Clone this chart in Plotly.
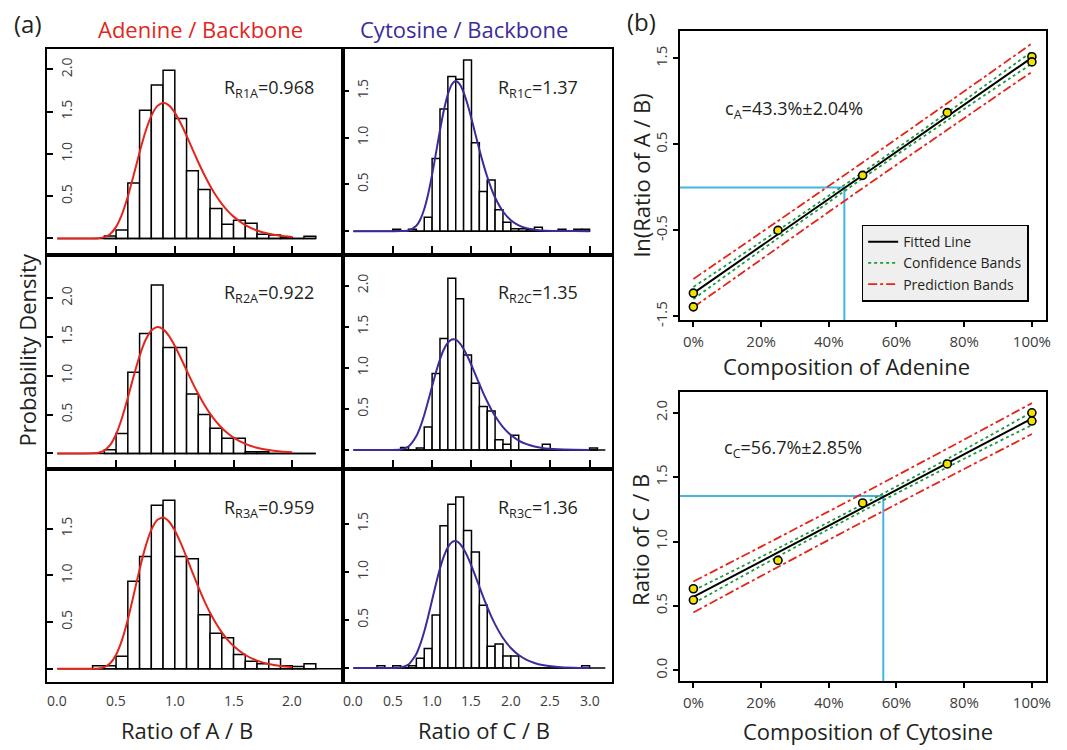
import plotly.graph_objects as go

W, H = 1067, 750
FONT = "Open Sans"
RED = "#e3261c"
PURPLE = "#3a2c9b"
GREEN = "#1f9a3a"
CYAN = "#45b5de"
YELLOW = "#f0e400"
INK = "#231f20"
TICKC = "#3c3c3c"

# ---------------- data: histograms (bin width 0.1, left edge of first bin) ----------------
BIN_W = 0.1
a1_start = 0.4
a1_heights = [0.03, 0.10, 0.656, 1.516, 1.816, 1.99, 1.418, 0.80, 0.578, 0.355,
              0.168, 0.215, 0.18, 0.05, 0.04, 0.012, 0.0, 0.027]
a2_start = 0.4
a2_heights = [0.047, 0.255, 1.046, 1.543, 2.168, 1.364, 1.364, 0.765, 0.502, 0.323,
              0.196, 0.196, 0.021, 0.021, 0.0, 0.0, 0.0, 0.0]
a3_start = 0.3
a3_heights = [0.032, 0.032, 0.134, 0.938, 1.203, 1.752, 1.805, 1.203, 1.178, 0.577,
              0.379, 0.333, 0.152, 0.081, 0.053, 0.103, 0.032, 0.025, 0.053]
c1_start = 0.5
c1_heights = [0.02, 0.0, 0.02, 0.0, 0.148, 0.777, 1.306, 1.653, 1.624, 1.829,
              0.946, 0.424, 0.547, 0.230, 0.095, 0.025, 0.025, 0.018, 0.042, 0.0,
              0.0, 0.02, 0.0, 0.02, 0.02]
c2_start = 0.6
c2_heights = [0.03, 0.0, 0.024, 0.28, 0.93, 1.357, 2.088, 1.839, 1.157, 0.811,
              0.53, 0.474, 0.125, 0.072, 0.181, 0.0, 0.0, 0.0, 0.072, 0.0,
              0.0, 0.0, 0.0, 0.0, 0.024]
c3_start = 0.3
c3_heights = [0.024, 0.0, 0.024, 0.0, 0.024, 0.103, 0.203, 0.553, 1.481, 1.704,
              1.780, 1.430, 1.206, 0.653, 0.227, 0.251, 0.124, 0.124, 0.0, 0.0,
              0.0, 0.0, 0.0, 0.0, 0.0, 0.0, 0.024]
# end of each histogram's baseline
a_base_end = [2.2, 2.2, 2.5]
c_base_end = [3.0, 3.2, 3.2]

# ---------------- data: fitted density curves ----------------
a_curve_x = [0, 0.1, 0.2, 0.3, 0.35, 0.4, 0.45, 0.5, 0.55, 0.6, 0.65, 0.7, 0.75, 0.8,
             0.85, 0.9, 0.95, 1.0, 1.05, 1.1, 1.15, 1.2, 1.25, 1.3, 1.35, 1.4, 1.45,
             1.5, 1.6, 1.7, 1.8, 1.9, 2.0]
a1_curve = [0, 0, 0, 0.0003, 0.003, 0.015, 0.053, 0.137, 0.285, 0.496, 0.752, 1.019,
            1.262, 1.450, 1.566, 1.605, 1.575, 1.489, 1.363, 1.215, 1.057, 0.902,
            0.756, 0.624, 0.508, 0.409, 0.326, 0.258, 0.157, 0.094, 0.055, 0.032, 0.018]
a2_curve = [0, 0, 0, 0.001, 0.009, 0.037, 0.110, 0.247, 0.456, 0.717, 0.997, 1.255,
            1.457, 1.583, 1.628, 1.600, 1.513, 1.384, 1.232, 1.071, 0.912, 0.764,
            0.630, 0.512, 0.412, 0.328, 0.260, 0.204, 0.123, 0.073, 0.043, 0.025, 0.014]
a3_curve = [0, 0, 0, 0.0004, 0.003, 0.017, 0.058, 0.150, 0.307, 0.528, 0.792, 1.064,
            1.305, 1.487, 1.592, 1.620, 1.578, 1.481, 1.348, 1.194, 1.033, 0.876,
            0.730, 0.600, 0.486, 0.389, 0.309, 0.243, 0.147, 0.087, 0.051, 0.029, 0.016]
c_curve_x = [0, 0.2, 0.4, 0.6, 0.7, 0.8, 0.85, 0.9, 0.95, 1.0, 1.05, 1.1, 1.15, 1.2,
             1.25, 1.3, 1.35, 1.4, 1.45, 1.5, 1.55, 1.6, 1.65, 1.7, 1.75, 1.8, 1.9,
             2.0, 2.1, 2.2, 2.3, 2.4, 2.6, 2.8, 3.0]
c1_curve = [0, 0, 0, 0.0003, 0.007, 0.057, 0.124, 0.236, 0.398, 0.604, 0.840, 1.079,
            1.295, 1.464, 1.568, 1.604, 1.572, 1.484, 1.356, 1.201, 1.036, 0.873,
            0.719, 0.581, 0.461, 0.359, 0.210, 0.117, 0.062, 0.032, 0.016, 0.008,
            0.002, 0.0004, 0.0001]
c2_curve = [0, 0, 0, 0.006, 0.043, 0.170, 0.282, 0.427, 0.596, 0.775, 0.950, 1.104,
            1.226, 1.307, 1.345, 1.342, 1.301, 1.230, 1.137, 1.031, 0.917, 0.804,
            0.693, 0.591, 0.497, 0.414, 0.279, 0.182, 0.116, 0.072, 0.044, 0.026,
            0.009, 0.003, 0.001]
c3_curve = [0, 0, 0, 0.005, 0.036, 0.147, 0.248, 0.380, 0.537, 0.708, 0.879, 1.035,
            1.164, 1.257, 1.309, 1.321, 1.296, 1.239, 1.159, 1.062, 0.956, 0.846,
            0.738, 0.635, 0.540, 0.454, 0.312, 0.208, 0.135, 0.085, 0.053, 0.032,
            0.012, 0.004, 0.001]

r_labels_a = ["R<sub>R1A</sub>=0.968", "R<sub>R2A</sub>=0.922", "R<sub>R3A</sub>=0.959"]
r_labels_c = ["R<sub>R1C</sub>=1.37", "R<sub>R2C</sub>=1.35", "R<sub>R3C</sub>=1.36"]

a_xticks = [0, 0.5, 1.0, 1.5, 2.0]
a_xticktext = ["0.0", "0.5", "1.0", "1.5", "2.0"]
c_xticks = [0, 0.5, 1.0, 1.5, 2.0, 2.5, 3.0]
c_xticktext = ["0.0", "0.5", "1.0", "1.5", "2.0", "2.5", "3.0"]
hist_yticks = [[0.5, 1.0, 1.5, 2.0], [0.5, 1.0, 1.5],
               [0.5, 1.0, 1.5, 2.0], [0.5, 1.0, 1.5, 2.0],
               [0.5, 1.0, 1.5], [0.5, 1.0, 1.5]]
hist_ytext = [["0.5", "1.0", "1.5", "2.0"], ["0.5", "1.0", "1.5"],
              ["0.5", "1.0", "1.5", "2.0"], ["0.5", "1.0", "1.5", "2.0"],
              ["0.5", "1.0", "1.5"], ["0.5", "1.0", "1.5"]]

# ---------------- data: calibration (b) ----------------
comp_pct = [0, 0, 25, 50, 75, 100, 100]
ln_ratio_ab = [-1.23, -1.39, -0.50, 0.14, 0.87, 1.52, 1.46]
ratio_cb = [0.634, 0.546, 0.854, 1.30, 1.603, 2.0, 1.936]

fit_x = [0, 100]
fit_a = [-1.23, 1.51]
fit_c = [0.57, 1.955]
band_x = [0, 25, 50, 75, 100]
conf_a_up = [-1.16, -0.50, 0.175, 0.87, 1.58]
conf_a_lo = [-1.30, -0.59, 0.105, 0.78, 1.44]
pred_a_up = [-1.065, -0.39, 0.29, 0.98, 1.675]
pred_a_lo = [-1.395, -0.70, -0.01, 0.67, 1.345]
conf_c_up = [0.62, 0.948, 1.289, 1.641, 2.005]
conf_c_lo = [0.52, 0.884, 1.237, 1.577, 1.905]
pred_c_up = [0.69, 1.029, 1.373, 1.722, 2.075]
pred_c_lo = [0.45, 0.803, 1.153, 1.496, 1.835]

ref_a = (44.6, 0.0)     # composition where fitted line meets ln ratio = 0
ref_c = (56.1, 1.354)   # composition where fitted line meets ratio = 1.354

pct_ticks = [0, 20, 40, 60, 80, 100]
pct_text = ["0%", "20%", "40%", "60%", "80%", "100%"]

# ---------------- layout helpers ----------------
def fx(p):
    return p / W


def fy(p):
    return 1 - p / H


fig = go.Figure()
layout = {}

col_x = [(47.7, 345.0), (345.0, 614.5)]
row_y = [(49.3, 257.3), (257.3, 473.3), (473.3, 688.3)]
a_range = [-0.084, 2.435]
c_range = [-0.127, 3.28]
y_ranges = [[-0.195, 2.244], [-0.254, 1.949],
            [-0.199, 2.556], [-0.229, 2.373],
            [-0.141, 2.141], [-0.144, 2.072]]

hist_sets = [
    (a1_start, a1_heights, a1_curve, 0, 0), (c1_start, c1_heights, c1_curve, 0, 1),
    (a2_start, a2_heights, a2_curve, 1, 0), (c2_start, c2_heights, c2_curve, 1, 1),
    (a3_start, a3_heights, a3_curve, 2, 0), (c3_start, c3_heights, c3_curve, 2, 1),
]

annotations = []

for i, (start, heights, curve, row, col) in enumerate(hist_sets):
    n = i + 1
    xa = "x" if n == 1 else f"x{n}"
    ya = "y" if n == 1 else f"y{n}"
    is_a = col == 0
    color = RED if is_a else PURPLE
    lefts = [start + BIN_W * k for k in range(len(heights))]
    fig.add_trace(go.Bar(x=lefts, y=heights, width=BIN_W, offset=0,
                         marker=dict(color="white", line=dict(color="black", width=1.5)),
                         xaxis=xa, yaxis=ya, showlegend=False, hoverinfo="skip"))
    base_end = (a_base_end if is_a else c_base_end)[row]
    fig.add_trace(go.Scatter(x=[0, base_end], y=[0, 0], mode="lines",
                             line=dict(color="black", width=1.5),
                             xaxis=xa, yaxis=ya, showlegend=False, hoverinfo="skip"))
    fig.add_trace(go.Scatter(x=a_curve_x if is_a else c_curve_x, y=curve, mode="lines",
                             line=dict(color=color, width=2, shape="spline", smoothing=0.6),
                             xaxis=xa, yaxis=ya, showlegend=False, hoverinfo="skip"))

    bottom = row == 2
    xk = "xaxis" if n == 1 else f"xaxis{n}"
    yk = "yaxis" if n == 1 else f"yaxis{n}"
    layout[xk] = dict(
        domain=[fx(col_x[col][0]), fx(col_x[col][1])],
        range=a_range if is_a else c_range, anchor=ya,
        showline=True, mirror=True, linecolor="black", linewidth=2,
        ticks="inside" if not bottom else "",
        ticklen=9, tickwidth=1.5, tickcolor="black",
        tickvals=a_xticks if is_a else c_xticks,
        showticklabels=False, showgrid=False, zeroline=False,
    )
    layout[yk] = dict(
        domain=[fy(row_y[row][1]), fy(row_y[row][0])],
        range=y_ranges[i], anchor=xa,
        showline=True, mirror=True, linecolor="black", linewidth=2,
        ticks="inside", ticklen=6, tickwidth=1.5, tickcolor="black",
        tickvals=hist_yticks[i], ticktext=hist_ytext[i],
        minor=dict(tickvals=[0], ticks="inside", ticklen=6, tickwidth=1.5,
                   tickcolor="black", showgrid=False),
        ticklabelposition="inside", tickangle=-90, ticklabelstandoff=2,
        showgrid=False, zeroline=False,
        tickfont=dict(family=FONT, size=14, color=TICKC),
    )
    lab = (r_labels_a if is_a else r_labels_c)[row]
    lab_y = [89, 296, 513][row]
    annotations.append(dict(text=lab, x=fx(223 if is_a else 498), y=fy(lab_y),
                            xref="paper", yref="paper", xanchor="left", yanchor="middle",
                            showarrow=False, font=dict(family=FONT, size=18, color=INK)))

    # tick labels of the bottom row, placed on the panel's own x scale
    if bottom:
        vals = a_xticks if is_a else c_xticks
        texts = a_xticktext if is_a else c_xticktext
        for v, t in zip(vals, texts):
            annotations.append(dict(text=t, x=v, xref=xa, y=fy(707), yref="paper",
                                    xanchor="center", yanchor="middle", showarrow=False,
                                    font=dict(family=FONT, size=14, color=TICKC)))

# ---------------- panel (b) ----------------
b_x = (682.7, 1050.7)
b_specs = [
    dict(n=7, ypx=(31.7, 323.3), yr=[-1.546, 1.815], yv=[-1.5, -0.5, 0.5, 1.5],
         yt=["-1.5", "-0.5", "0.5", "1.5"], pts=ln_ratio_ab, fit=fit_a,
         cu=conf_a_up, cl=conf_a_lo, pu=pred_a_up, pl=pred_a_lo, ref=ref_a, legend=True),
    dict(n=8, ypx=(395.7, 687.3), yr=[-0.0815, 2.1615], yv=[0, 0.5, 1.0, 1.5, 2.0],
         yt=["0.0", "0.5", "1.0", "1.5", "2.0"], pts=ratio_cb, fit=fit_c,
         cu=conf_c_up, cl=conf_c_lo, pu=pred_c_up, pl=pred_c_lo, ref=ref_c, legend=False),
]
for s in b_specs:
    n = s["n"]
    xa, ya = f"x{n}", f"y{n}"
    rx, ry = s["ref"]
    fig.add_trace(go.Scatter(x=[-10, rx, rx], y=[ry, ry, -5], mode="lines",
                             line=dict(color=CYAN, width=2), xaxis=xa, yaxis=ya,
                             showlegend=False, hoverinfo="skip"))
    for k, (arr, nm, col, dash) in enumerate([
            (s["pu"], "Prediction Bands", RED, "dashdot"),
            (s["pl"], "Prediction Bands", RED, "dashdot"),
            (s["cu"], "Confidence Bands", GREEN, "dot"),
            (s["cl"], "Confidence Bands", GREEN, "dot")]):
        fig.add_trace(go.Scatter(x=band_x, y=arr, mode="lines", name=nm,
                                 line=dict(color=col, width=1.8, dash=dash, shape="spline"),
                                 xaxis=xa, yaxis=ya, legendgroup=nm,
                                 legendrank=3 if nm.startswith("Pred") else 2,
                                 showlegend=s["legend"] and k in (0, 2), hoverinfo="skip"))
    fig.add_trace(go.Scatter(x=fit_x, y=s["fit"], mode="lines", name="Fitted Line",
                             line=dict(color="black", width=2), xaxis=xa, yaxis=ya,
                             legendrank=1, showlegend=s["legend"], hoverinfo="skip"))
    fig.add_trace(go.Scatter(x=comp_pct, y=s["pts"], mode="markers",
                             marker=dict(color=YELLOW, size=8, line=dict(color="black", width=1.6)),
                             xaxis=xa, yaxis=ya, showlegend=False, hoverinfo="skip"))
    layout[f"xaxis{n}"] = dict(
        domain=[fx(b_x[0]), fx(b_x[1])], range=[-4.1, 104.1], anchor=ya,
        showline=True, mirror=True, linecolor="black", linewidth=2,
        ticks="outside", ticklen=5, tickwidth=1.5, tickcolor="black",
        tickvals=pct_ticks, ticktext=pct_text, showgrid=False, zeroline=False,
        ticklabelstandoff=2, ticklabeloverflow="allow",
        tickfont=dict(family=FONT, size=15, color=TICKC))
    layout[f"yaxis{n}"] = dict(
        domain=[fy(s["ypx"][1]), fy(s["ypx"][0])], range=s["yr"], anchor=xa,
        showline=True, mirror=True, linecolor="black", linewidth=2,
        ticks="outside", ticklen=5, tickwidth=1.5, tickcolor="black",
        tickvals=s["yv"], ticktext=s["yt"], tickangle=-90,
        ticklabeloverflow="allow",
        showgrid=False, zeroline=False,
        tickfont=dict(family=FONT, size=15, color=TICKC))

# ---------------- text ----------------
def txt(text, xp, yp, size=22, color=INK, angle=0, xanchor="center"):
    annotations.append(dict(text=text, x=fx(xp), y=fy(yp), xref="paper", yref="paper",
                            xanchor=xanchor, yanchor="middle", textangle=angle,
                            showarrow=False, font=dict(family=FONT, size=size, color=color)))


txt("(a)", 28, 24, size=24)
txt("(b)", 645, 22, size=24)
txt("Adenine / Backbone", 201, 29, color=RED)
txt("Cytosine / Backbone", 466, 29, color=PURPLE)
txt("Probability Density", 27, 353, angle=-90)
txt("Ratio of A / B", 188, 737)
txt("Ratio of C / B", 486, 737)
txt("ln(Ratio of A / B)", 644, 177, angle=-90)
txt("Composition of Adenine", 850, 369)
txt("Ratio of C / B", 643, 545, angle=-90)
txt("Composition of Cytosine", 872, 738)
txt("c<sub>A</sub>=43.3%±2.04%", 726, 111, size=18, xanchor="left")
txt("c<sub>C</sub>=56.7%±2.85%", 725, 453, size=18, xanchor="left")

fig.update_layout(
    width=W, height=H, margin=dict(l=0, r=0, t=0, b=0),
    paper_bgcolor="white", plot_bgcolor="rgba(0,0,0,0)",
    barmode="overlay", annotations=annotations,
    font=dict(family=FONT, color=INK),
    legend=dict(x=fx(865.7), y=fy(226.7), xanchor="left", yanchor="top",
                bgcolor="#efefef", bordercolor="black", borderwidth=1.5,
                font=dict(family=FONT, size=14, color=INK),
                itemwidth=30, tracegroupgap=0, traceorder="normal"),
    **layout,
)

fig.write_html("out.html")
